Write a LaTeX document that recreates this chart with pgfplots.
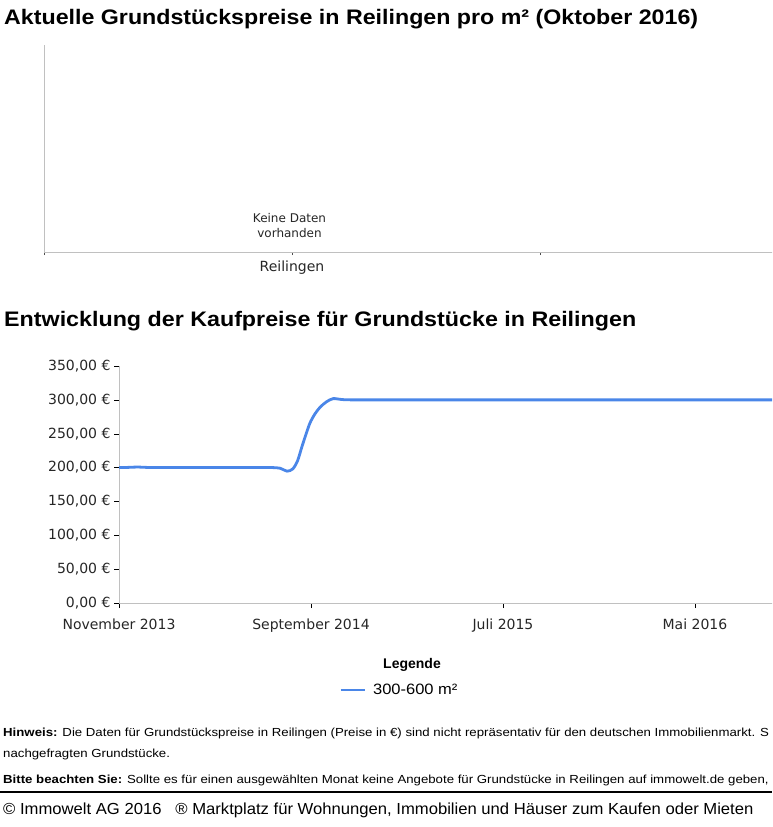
\documentclass[border=0pt]{standalone}
\usepackage{fontspec}
\setmainfont{Liberation Sans}
\newfontfamily\dejavu{DejaVu Sans}
\usepackage{pgfplots}
\pgfplotsset{compat=1.18}
\definecolor{linieblau}{RGB}{74,134,232}
\definecolor{achse}{RGB}{192,192,192}
\begin{document}
\begin{tikzpicture}
\path[use as bounding box] (0pt,0pt) rectangle (772pt,-827pt);
\clip (0pt,0pt) rectangle (772pt,-827pt);

% Ueberschrift oben
\node[anchor=base west, inner sep=0pt, font=\bfseries\fontsize{21}{21}\selectfont]
  at (4pt,-24pt) {\resizebox{694pt}{\height}{Aktuelle Grundstückspreise in Reilingen pro m² (Oktober 2016)}};

% aktuelle Preise (keine Daten)
\begin{axis}[
  at={(44pt,-252pt)}, anchor=south west, scale only axis,
  width=744pt, height=207pt,
  xmin=0, xmax=3, ymin=0, ymax=1,
  axis lines=left, axis line style={draw=achse, -},
  xtick={0,1,2,3}, xticklabels={,Reilingen,,}, ytick=\empty,
  tick align=outside, major tick length=3pt,
  tick style={draw=black!70},
  xticklabel style={font=\dejavu\fontsize{14}{14}\selectfont, text=black!85, yshift=-2pt},
]
\node[align=center, font=\dejavu\fontsize{12}{15}\selectfont, text=black!85]
  at (axis cs:0.99,0.126) {Keine Daten\\vorhanden};
\end{axis}

% zweite Ueberschrift
\node[anchor=base west, inner sep=0pt, font=\bfseries\fontsize{21}{21}\selectfont]
  at (4pt,-326pt) {\resizebox{632pt}{\height}{Entwicklung der Kaufpreise für Grundstücke in Reilingen}};

% Entwicklung (x = Monate ab November 2013)
\begin{axis}[
  at={(119pt,-603pt)}, anchor=south west, scale only axis,
  width=661pt, height=237pt,
  xmin=0, xmax=34.43, ymin=0, ymax=350,
  axis lines=left, axis line style={draw=achse, -},
  tick align=outside, major tick length=5pt,
  tick style={draw=black},
  ytick={0,50,...,350},
  xtick={0,10,20,30},
  xticklabels={November 2013, September 2014, Juli 2015, Mai 2016},
  /pgf/number format/assume math mode=true,
  yticklabel={\pgfmathprintnumber[fixed, fixed zerofill, precision=2, use comma]{\tick}~€},
  ticklabel style={font=\dejavu\fontsize{14}{14}\selectfont, text=black!85},
  xticklabel style={yshift=-7pt},
  legend style={at={(0.333,-0.367)}, anchor=west, draw=none, fill=none,
    font=\fontsize{15}{15}\selectfont, inner sep=0pt},
  legend image code/.code={\draw[#1] (0pt,0pt) -- (24pt,0pt); \path (29pt,0pt);},
]
\addplot[linieblau, line width=2.8pt, smooth] coordinates {
  (0,200) (0.5,200.3) (0.95,200.8) (1.5,200.2) (2,200) (4,200) (6,200) (7.5,200)
  (8.0,200) (8.4,199) (8.75,194.7) (9.05,198) (9.3,210) (9.53,231) (9.75,250)
  (9.95,266) (10.2,279) (10.47,289) (10.8,297) (11.15,301.8) (11.6,300.5)
  (12.1,300) (14,300) (18,300) (22,300) (26,300) (30,300) (34.43,300)
};
\addlegendentry{\scalebox{1.1}[1]{300-600 m²}}
\end{axis}

\node[font=\bfseries\fontsize{14}{14}\selectfont, inner sep=0pt, anchor=base]
  at (412pt,-668pt) {Legende};

% Hinweise
\begin{scope}[every node/.style={anchor=base west, inner sep=0pt, font=\fontsize{11.7}{11.7}\selectfont}]
\node at (3pt,-736pt) {\scalebox{1.13}[1]{\textbf{Hinweis:} Die Daten für Grundstückspreise in Reilingen (Preise in €) sind nicht repräsentativ für den deutschen Immobilienmarkt. S}};
\node at (3pt,-757pt) {\scalebox{1.13}[1]{nachgefragten Grundstücke.}};
\node at (3pt,-783pt) {\scalebox{1.13}[1]{\textbf{Bitte beachten Sie:} Sollte es für einen ausgewählten Monat keine Angebote für Grundstücke in Reilingen auf immowelt.de geben,}};
\end{scope}
\draw[line width=2pt] (0pt,-792pt) -- (772pt,-792pt);
\node[anchor=base west, inner sep=0pt, font=\fontsize{16}{16}\selectfont]
  at (3pt,-814pt) {\scalebox{1.04}[1]{© Immowelt AG 2016 \ \ ® Marktplatz für Wohnungen, Immobilien und Häuser zum Kaufen oder Mieten}};
\end{tikzpicture}
\end{document}
